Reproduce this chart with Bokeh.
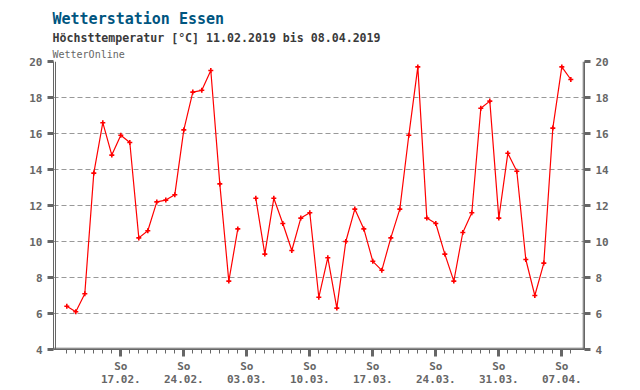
from bokeh.plotting import figure
from bokeh.models import (LinearAxis, FixedTicker, Span, Title, Range1d)
from bokeh.embed import file_html
from bokeh.resources import INLINE

# ---- data ----
dates = ["11.02", "12.02", "13.02", "14.02", "15.02", "16.02", "17.02", "18.02", "19.02", "20.02",
         "21.02", "22.02", "23.02", "24.02", "25.02", "26.02", "27.02", "28.02", "01.03", "02.03",
         "03.03", "04.03", "05.03", "06.03", "07.03", "08.03", "09.03", "10.03", "11.03", "12.03",
         "13.03", "14.03", "15.03", "16.03", "17.03", "18.03", "19.03", "20.03", "21.03", "22.03",
         "23.03", "24.03", "25.03", "26.03", "27.03", "28.03", "29.03", "30.03", "31.03", "01.04",
         "02.04", "03.04", "04.04", "05.04", "06.04", "07.04", "08.04"]
tmax = [6.4, 6.1, 7.1, 13.8, 16.6, 14.8, 15.9, 15.5, 10.2, 10.6,
        12.2, 12.3, 12.6, 16.2, 18.3, 18.4, 19.5, 13.2, 7.8, 10.7,
        None, 12.4, 9.3, 12.4, 11.0, 9.5, 11.3, 11.6, 6.9, 9.1,
        6.3, 10.0, 11.8, 10.7, 8.9, 8.4, 10.2, 11.8, 15.9, 19.7,
        11.3, 11.0, 9.3, 7.8, 10.5, 11.6, 17.4, 17.8, 11.3, 14.9,
        13.9, 9.0, 7.0, 8.8, 16.3, 19.7, 19.0]
sunday_idx = [6, 13, 20, 27, 34, 41, 48, 55]
sunday_labels = ["So\n17.02.", "So\n24.02.", "So\n03.03.", "So\n10.03.",
                 "So\n17.03.", "So\n24.03.", "So\n31.03.", "So\n07.04."]
y_ticks = [4, 6, 8, 10, 12, 14, 16, 18, 20]
title_text = "Wetterstation Essen"
subtitle_text = "Höchsttemperatur [°C] 11.02.2019 bis 08.04.2019"
source_text = "WetterOnline"

x = list(range(len(dates)))
y = [float("nan") if v is None else v for v in tmax]

GRAY = "#666666"
FONT = "DejaVu Sans Mono"

p = figure(width=640, height=390, output_backend="svg", toolbar_location=None, title=None,
           x_range=Range1d(-1.478, 57.52), y_range=Range1d(4, 20),
           min_border_left=53, min_border_right=56, min_border_top=61, min_border_bottom=41,
           x_axis_location=None, y_axis_location=None)
p.outline_line_color = None
p.background_fill_color = "white"
p.border_fill_color = "white"

# axes
yt = FixedTicker(ticks=y_ticks)
for side in ("left", "right"):
    ax = LinearAxis(ticker=yt)
    ax.axis_line_color = GRAY
    ax.major_tick_line_color = GRAY
    ax.major_tick_line_width = 3
    ax.major_tick_out = 6
    ax.major_tick_in = 0
    ax.minor_tick_line_color = None
    ax.major_label_standoff = 5
    ax.major_label_text_font = FONT
    ax.major_label_text_font_style = "bold"
    ax.major_label_text_font_size = "11px"
    ax.major_label_text_color = GRAY
    p.add_layout(ax, side)

xt = FixedTicker(ticks=sunday_idx, minor_ticks=x)
xax = LinearAxis(ticker=xt)
xax.axis_line_color = GRAY
xax.major_tick_line_color = GRAY
xax.major_tick_line_width = 3
xax.major_tick_out = 7
xax.major_tick_in = 0
xax.minor_tick_line_color = GRAY
xax.minor_tick_line_width = 1
xax.minor_tick_out = 4
xax.minor_tick_in = 0
xax.major_label_standoff = 3
xax.major_label_text_font = FONT
xax.major_label_text_font_style = "bold"
xax.major_label_text_font_size = "11px"
xax.major_label_text_color = GRAY
xax.major_label_text_line_height = 1.0
xax.major_label_overrides = {i: lab for i, lab in zip(sunday_idx, sunday_labels)}
p.add_layout(xax, "below")

# grid
p.xgrid.visible = False
p.ygrid.ticker = yt
p.ygrid.grid_line_color = "#999999"
p.ygrid.grid_line_dash = "5 3"
p.ygrid.grid_line_width = 1

# inner frame lines
p.add_layout(Span(location=-1.256, dimension="height", line_color=GRAY, line_width=1))
p.add_layout(Span(location=57.38, dimension="height", line_color=GRAY, line_width=1))
p.add_layout(Span(location=4.07, dimension="width", line_color=GRAY, line_width=1))

# data
p.line(x, y, line_color="#ff0000", line_width=1.2)
p.scatter(x, y, marker="cross", size=5, line_width=1.6, line_color="#ff0000")

# texts (added nearest-first)
p.add_layout(Title(text=source_text, align="left", offset=-1, standoff=3,
                   text_font=FONT, text_font_style="normal", text_font_size="10px",
                   text_color=GRAY), "above")
p.add_layout(Title(text=subtitle_text, align="left", offset=-1, standoff=2,
                   text_font=FONT, text_font_style="bold", text_font_size="11.6px",
                   text_color="#3a3a3a"), "above")
p.add_layout(Title(text=title_text, align="left", offset=-1, standoff=0,
                   text_font=FONT, text_font_style="bold", text_font_size="15px",
                   text_color="#00557f"), "above")

open("out.html", "w").write(file_html(p, INLINE))
